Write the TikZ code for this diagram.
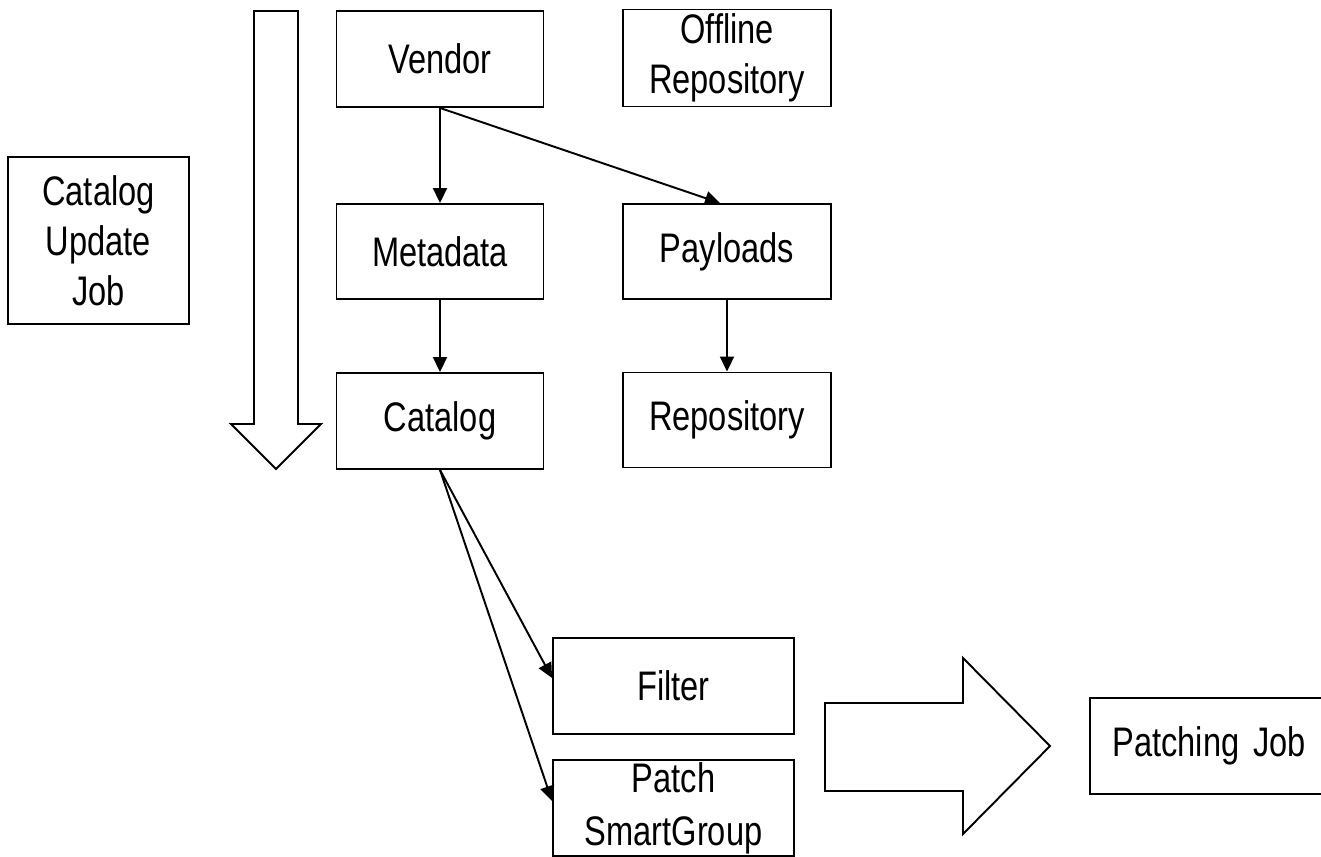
\documentclass[tikz,border=0pt]{standalone}
\usepackage{fontspec}
\setmainfont{Liberation Sans}[FakeStretch=0.79, WordSpace=0.75]
\usetikzlibrary{arrows.meta}

\tikzset{
  box/.style={draw, line width=1.1pt, align=center, inner sep=0pt,
    font=\fontsize{23.5}{28.5}\selectfont},
  link/.style={line width=1.1pt, -{Triangle[length=0.3cm,width=0.28cm]}},
  bigarrow/.style={draw, line width=1.1pt, fill=white, line join=miter}
}

\begin{document}
\begin{tikzpicture}[x=0.02cm,y=-0.02cm]
\useasboundingbox (0,0) rectangle (1321,856);
% boxes
\node[box, minimum width=4.14cm, minimum height=1.92cm] (vendor) at (440,59) {Vendor};
\node[box, minimum width=4.16cm, minimum height=1.94cm] (offline) at (727,58) {Offline\\Repository};
\node[box, minimum width=3.62cm, minimum height=3.34cm] (updatejob) at (98.5,240.5) {Catalog\\Update\\Job};
\node[box, minimum width=4.14cm, minimum height=1.9cm] (metadata) at (440,251.5) {Metadata};
\node[box, minimum width=4.16cm, minimum height=1.9cm] (payloads) at (727,251.5) {Payloads};
\node[box, minimum width=4.14cm, minimum height=1.92cm] (catalog) at (440,421) {Catalog};
\node[box, minimum width=4.16cm, minimum height=1.9cm] (repo) at (727,420) {Repository};
\node[box, minimum width=4.82cm, minimum height=1.92cm] (filter) at (673.5,686) {Filter};
\node[box, minimum width=4.82cm, minimum height=1.92cm, font=\fontsize{23.5}{30}\selectfont] (smartgroup) at (673.5,808) {Patch\\SmartGroup};
\node[box, anchor=west, text width=5.2cm, align=left, inner xsep=0.45cm, minimum height=1.92cm] (patchjob) at (1089,746) {Patching Job};
% flow arrows
\draw[link] (vendor.south) -- (metadata.north);
\draw[link] (vendor.south) -- ([xshift=-0.14cm]payloads.north);
\draw[link] (metadata.south) -- (catalog.north);
\draw[link] (payloads.south) -- (repo.north);
\draw[link] (catalog.south) -- ([yshift=0.16cm]filter.west);
\draw[link] (catalog.south) -- ([yshift=0.14cm]smartgroup.west);
% block arrows
\draw[bigarrow] (254,11) -- (298,11) -- (298,424) -- (321,424) -- (276,469) -- (231,424) -- (254,424) -- cycle;
\draw[bigarrow] (825,703) -- (963,703) -- (963,658) -- (1050,746) -- (963,834) -- (963,791) -- (825,791) -- cycle;
\end{tikzpicture}
\end{document}
